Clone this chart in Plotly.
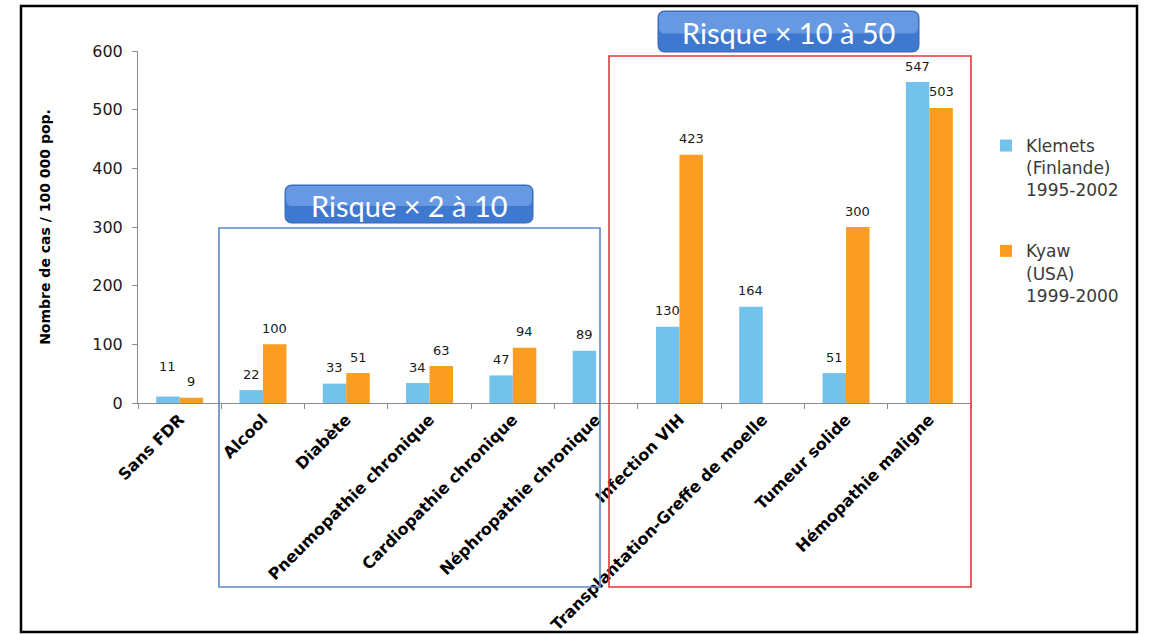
import plotly.graph_objects as go

# Incidence data (cases per 100 000 population)
categories = [
    "Sans FDR", "Alcool", "Diabète", "Pneumopathie chronique",
    "Cardiopathie chronique", "Néphropathie chronique", "Infection VIH",
    "Transplantation-Greffe de moelle", "Tumeur solide", "Hémopathie maligne",
]
klemets = [11, 22, 33, 34, 47, 89, 130, 164, 51, 547]
kyaw = [9, 100, 51, 63, 94, None, 423, None, 300, 503]

series_names = ["Klemets<br>(Finlande)<br>1995-2002", "Kyaw<br>(USA)<br>1999-2000"]
series_colors = ["#72C2EC", "#FA9D20"]

y_ticks = [0, 100, 200, 300, 400, 500, 600]

# Figure geometry (pixels)
W, H = 1153, 634
L, R, T, B = 138, 971, 51, 403


def px(x):
    return (x - L) / (R - L)


def py(y):
    return (B - y) / (B - T)


def rounded_path(x0, y0, x1, y1, r):
    """Rounded rectangle given in pixel coords, returned in paper coords."""
    rx = r / (R - L)
    ry = r / (B - T)
    a, b, c, d = px(x0), py(y1), px(x1), py(y0)  # left, bottom, right, top
    return (
        f"M{a + rx},{d} L{c - rx},{d} Q{c},{d} {c},{d - ry} "
        f"L{c},{b + ry} Q{c},{b} {c - rx},{b} "
        f"L{a + rx},{b} Q{a},{b} {a},{b + ry} "
        f"L{a},{d - ry} Q{a},{d} {a + rx},{d} Z"
    )


fig = go.Figure()
for name, vals, col, grp in zip(series_names, [klemets, kyaw], series_colors, ["k", "y"]):
    fig.add_trace(go.Bar(
        x=categories, y=vals, name=name, marker=dict(color=col, line=dict(width=0)),
        legendgroup=grp,
    ))

# Value labels above each bar
label_font = dict(family="DejaVu Sans", size=13, color="#1a1a1a")
annotations = []
for vals, xshift in [(klemets, -11.8), (kyaw, 11.8)]:
    for cat, v in zip(categories, vals):
        if v is None:
            continue
        lift = 30 if (cat == "Sans FDR" and xshift < 0) else 16
        annotations.append(dict(
            x=cat, y=v, xref="x", yref="y", text=str(v), showarrow=False,
            xshift=xshift, yshift=lift, yanchor="middle", font=label_font,
        ))

shapes = []
# Outer frame
shapes.append(dict(type="rect", xref="paper", yref="paper",
                   x0=px(21), x1=px(1137), y0=py(632), y1=py(6),
                   line=dict(color="black", width=2.5)))
# Risk group outlines
shapes.append(dict(type="rect", xref="paper", yref="paper",
                   x0=px(219), x1=px(600), y0=py(587), y1=py(228),
                   line=dict(color="#5B8AC9", width=1.6)))
shapes.append(dict(type="rect", xref="paper", yref="paper",
                   x0=px(609), x1=px(971), y0=py(587), y1=py(56),
                   line=dict(color="#E03A3A", width=1.6)))

# Callout buttons with a light top highlight
callouts = [
    ("Risque × 2 à 10", 285, 185, 533, 223),
    ("Risque × 10 à 50", 658, 11, 919, 52),
]
for text, x0, y0, x1, y1 in callouts:
    shapes.append(dict(type="path", xref="paper", yref="paper",
                       path=rounded_path(x0, y0, x1, y1, 7),
                       fillcolor="#3F78CF", line=dict(color="#3568B8", width=1)))
    shapes.append(dict(type="path", xref="paper", yref="paper",
                       path=rounded_path(x0 + 1, y0 + 1, x1 - 1, y0 + (y1 - y0) * 0.55, 6),
                       fillcolor="#86B5F0", opacity=0.55, line=dict(width=0)))
    annotations.append(dict(
        x=px((x0 + x1) / 2), y=py((y0 + y1) / 2 + 1), xref="paper", yref="paper",
        text=text, showarrow=False, xanchor="center", yanchor="middle",
        font=dict(family="Lato", size=29, color="white"),
    ))

fig.update_layout(
    width=W, height=H,
    margin=dict(l=L, r=W - R, t=T, b=H - B, autoexpand=False),
    paper_bgcolor="white", plot_bgcolor="white",
    barmode="group", bargap=0.436, bargroupgap=0,
    showlegend=True,
    legend=dict(
        x=px(986), y=py(128), xanchor="left", yanchor="top",
        font=dict(family="DejaVu Sans", size=17, color="#3a3a3a"),
        valign="top", tracegroupgap=36, itemwidth=30,
        bgcolor="rgba(0,0,0,0)",
    ),
    shapes=shapes,
    annotations=annotations,
)

fig.update_xaxes(
    type="category", tickangle=-45, tickson="boundaries",
    showline=True, linecolor="#8C8C8C", linewidth=1,
    ticks="outside", ticklen=5, tickcolor="#8C8C8C",
    tickfont=dict(family="DejaVu Sans", size=16, color="black", weight="bold"),
    showgrid=False, automargin=False,
)
fig.update_yaxes(
    range=[0, 600], tickvals=y_ticks, ticktext=[str(v) for v in y_ticks],
    showline=True, linecolor="#8C8C8C", linewidth=1,
    ticks="outside", ticklen=5, tickcolor="#8C8C8C", ticklabelstandoff=6,
    tickfont=dict(family="DejaVu Sans", size=16, color="#1a1a1a"),
    showgrid=False, zeroline=False, automargin=False,
    title=dict(text="Nombre de cas / 100 000 pop.", standoff=38,
               font=dict(family="DejaVu Sans", size=14, color="black", weight="bold")),
)

fig.write_html("out.html")
